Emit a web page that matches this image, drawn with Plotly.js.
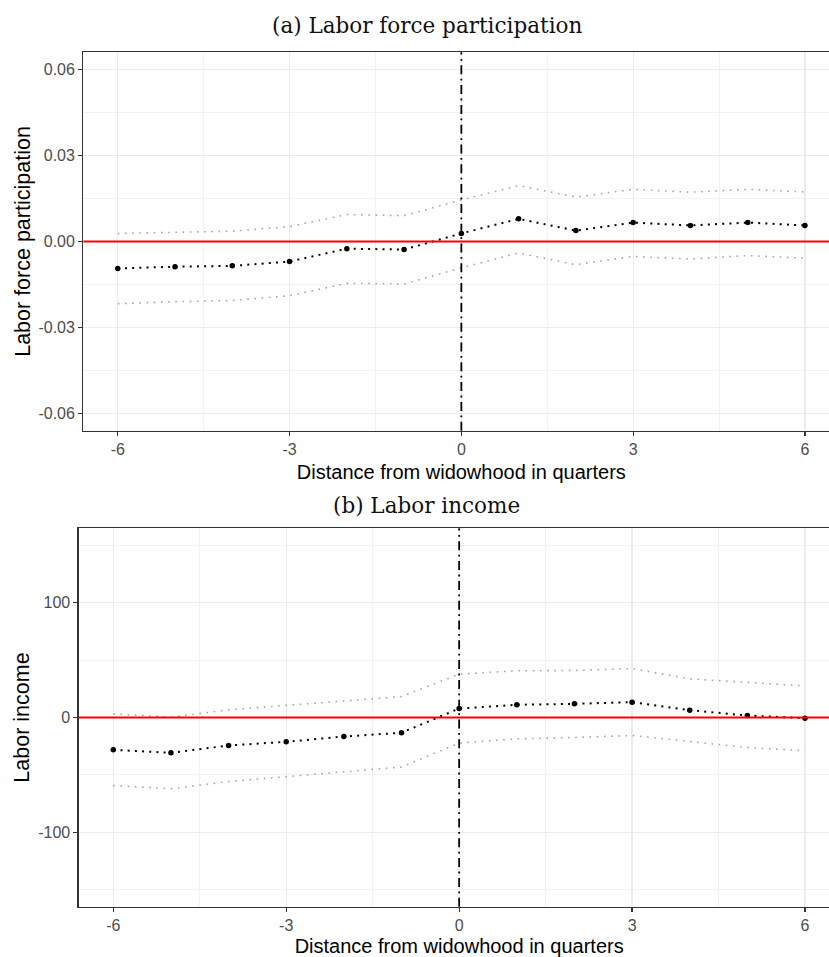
<!DOCTYPE html>
<html><head><meta charset="utf-8">
<script src="https://cdn.plot.ly/plotly-3.0.1.min.js"></script>
<style>html,body{margin:0;padding:0;overflow:hidden;background:#fff}</style>
</head><body><div id="chart"></div>
<script>
const quarters = [-6,-5,-4,-3,-2,-1,0,1,2,3,4,5,6];
const lfpEst   = [-0.0094,-0.0088,-0.0085,-0.0070,-0.0025,-0.0028,0.0028,0.0079,0.0038,0.0066,0.0056,0.0066,0.0056];
const lfpUpper = [0.0028,0.0031,0.0036,0.0052,0.0094,0.0090,0.0145,0.0195,0.0155,0.0182,0.0172,0.0182,0.0173];
const lfpLower = [-0.0217,-0.0210,-0.0206,-0.0189,-0.0146,-0.0148,-0.0092,-0.0040,-0.0081,-0.0052,-0.0061,-0.0049,-0.0058];
const incEst   = [-28.2,-30.8,-24.4,-21.2,-16.6,-13.3,7.8,11.1,11.9,13.4,6.4,1.7,-0.6];
const incUpper = [3.2,0.3,6.7,10.5,14.8,18.3,37.8,40.7,41.0,42.7,33.7,30.5,27.6];
const incLower = [-59.3,-62.2,-55.8,-51.7,-47.3,-43.2,-22.3,-18.6,-17.4,-15.7,-20.9,-26.2,-29.0];
const xTickVals = [-6,-3,0,3,6];
const xTickText = ['-6','-3','0','3','6'];
const lfpTickVals = [-0.06,-0.03,0,0.03,0.06];
const lfpTickText = ['-0.06','-0.03','0.00','0.03','0.06'];
const incTickVals = [-100,0,100];
const incTickText = ['-100','0','100'];
const panelTitles = ['(a) Labor force participation','(b) Labor income'];
const xTitle = 'Distance from widowhood in quarters';
const yTitles = ['Labor force participation','Labor income'];

const SANS = 'Liberation Sans, Arial, sans-serif';
const SERIF = 'DejaVu Serif, serif';
const ciLine = {color:'#A6A6A6', width:1.6, dash:'1.6px,5.6px'};
const estLine = {color:'#000000', width:2, dash:'2px,5.2px'};

function panelTraces(est, up, lo, xa, ya){
  return [
    {x:quarters, y:up, xaxis:xa, yaxis:ya, type:'scatter', mode:'lines', line:ciLine, hoverinfo:'skip', showlegend:false},
    {x:quarters, y:lo, xaxis:xa, yaxis:ya, type:'scatter', mode:'lines', line:ciLine, hoverinfo:'skip', showlegend:false},
    {x:quarters, y:est, xaxis:xa, yaxis:ya, type:'scatter', mode:'lines+markers', line:estLine,
     marker:{color:'#000', size:5.5, symbol:'circle'}, showlegend:false}
  ];
}
const data = [].concat(
  panelTraces(lfpEst, lfpUpper, lfpLower, 'x', 'y'),
  panelTraces(incEst, incUpper, incLower, 'x2', 'y2')
);

const W = 840, H = 957, ML = 70, MR = 0, MT = 40, MB = 40;
const PW = W - ML - MR, PH = H - MT - MB;
const px = v => (v - ML) / PW;
const py = v => (H - MB - v) / PH;

function xAxis(anchor, dom){
  return {
    anchor: anchor, domain: dom, range:[-6.6,6.6], tickmode:'array', tickvals:xTickVals, ticktext:xTickText,
    ticks:'outside', ticklen:4, tickwidth:1.3, tickcolor:'#333',
    showline:true, linecolor:'#333', linewidth:1.3, mirror:true,
    showgrid:true, gridcolor:'#EBEBEB', gridwidth:1.3, zeroline:false,
    minor:{tickmode:'linear', tick0:-4.5, dtick:3, showgrid:true, gridcolor:'#EFEFEF', gridwidth:0.8, ticks:''},
    tickfont:{family:SANS, size:16, color:'#4D4D4D'},
    title:{text:xTitle, font:{family:SANS, size:20, color:'#000'}, standoff:7},
    automargin:false, fixedrange:true
  };
}
function yAxis(anchor, dom, rng, tv, tt, m0, mdt, title){
  return {
    anchor: anchor, domain: dom, range:rng, tickmode:'array', tickvals:tv, ticktext:tt,
    ticks:'outside', ticklen:4, tickwidth:1.3, tickcolor:'#333',
    showline:true, linecolor:'#333', linewidth:1.3, mirror:true,
    showgrid:true, gridcolor:'#EBEBEB', gridwidth:1.3, zeroline:false,
    minor:{tickmode:'linear', tick0:m0, dtick:mdt, showgrid:true, gridcolor:'#EFEFEF', gridwidth:0.8, ticks:''},
    tickfont:{family:SANS, size:16, color:'#4D4D4D'},
    title:{text:title, font:{family:SANS, size:21.5, color:'#000'}, standoff:2},
    automargin:false, fixedrange:true
  };
}

const vline = {color:'#000', width:1.8, dash:'9px,4.5px,1.8px,4.5px'};
const hline = {color:'#FF0000', width:1.8};

const layout = {
  width:W, height:H, margin:{l:ML, r:MR, t:MT, b:MB},
  paper_bgcolor:'#fff', plot_bgcolor:'#fff', showlegend:false,
  xaxis: xAxis('y', [px(83.4), px(839.3)]),
  yaxis: yAxis('x', [py(430.7), py(52.3)], [-0.066,0.066], lfpTickVals, lfpTickText, 0.015, 0.03, yTitles[0]),
  xaxis2: xAxis('y2', [px(78.7), px(839.6)]),
  yaxis2: yAxis('x2', [py(906.7), py(528.3)], [-165,165], incTickVals, incTickText, 50, 100, yTitles[1]),
  shapes: [
    {type:'line', xref:'x domain', yref:'y', x0:0, x1:1, y0:0, y1:0, layer:'above', line:hline},
    {type:'line', xref:'x2 domain', yref:'y2', x0:0, x1:1, y0:0, y1:0, layer:'above', line:hline},
    {type:'line', xref:'x', yref:'y domain', x0:0, x1:0, y0:0, y1:1, layer:'above', line:vline},
    {type:'line', xref:'x2', yref:'y2 domain', x0:0, x1:0, y0:0, y1:1, layer:'above', line:vline}
  ],
  annotations: [
    {text:panelTitles[0], xref:'paper', yref:'paper', x:px(426.5), y:py(26), xanchor:'center', yanchor:'middle', showarrow:false, font:{family:SERIF, size:21.5, color:'#111'}},
    {text:panelTitles[1], xref:'paper', yref:'paper', x:px(426.5), y:py(505), xanchor:'center', yanchor:'middle', showarrow:false, font:{family:SERIF, size:21.5, color:'#111'}}
  ]
};

Plotly.newPlot('chart', data, layout, {displayModeBar:false, staticPlot:true});
</script>
</body></html>
